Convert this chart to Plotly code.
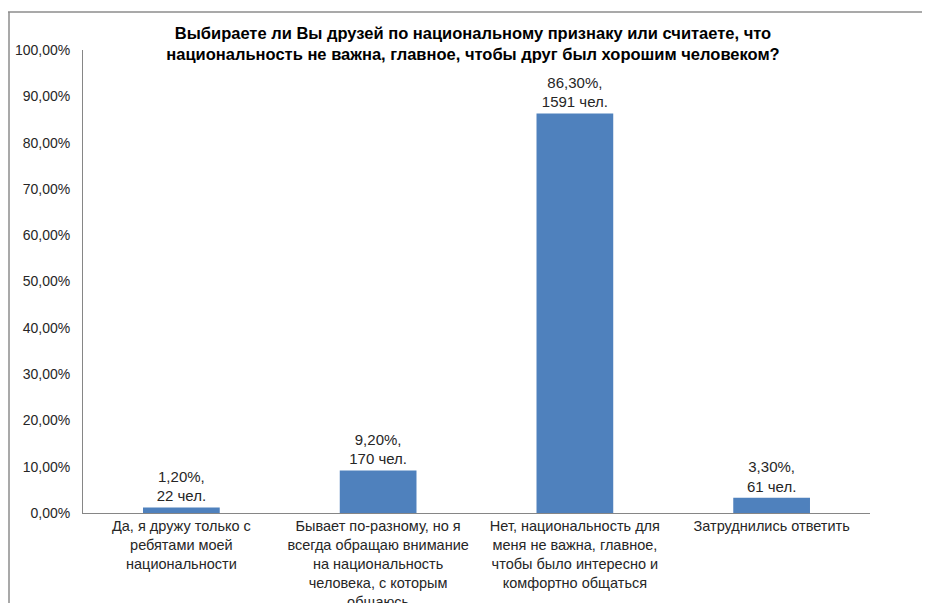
import plotly.graph_objects as go

categories = [
    "Да, я дружу только с<br>ребятами моей<br>национальности",
    "Бывает по-разному, но я<br>всегда обращаю внимание<br>на национальность<br>человека, с которым<br>общаюсь",
    "Нет, национальность для<br>меня не важна, главное,<br>чтобы было интересно и<br>комфортно общаться",
    "Затруднились ответить",
]
percent = [1.20, 9.20, 86.30, 3.30]
people = [22, 170, 1591, 61]
y_ticks = [0, 10, 20, 30, 40, 50, 60, 70, 80, 90, 100]

labels = [f"{p:.2f}".replace(".", ",") + f"%,<br>{n} чел." for p, n in zip(percent, people)]

fig = go.Figure(
    go.Bar(
        x=categories,
        y=[p / 100 for p in percent],
        text=labels,
        textposition="outside",
        cliponaxis=False,
        textfont=dict(family="Liberation Sans, Arial", size=15, color="#262626"),
        marker=dict(color="#4F81BD", line=dict(width=0)),
    )
)

# page body has an 8px margin, so figure coords = reference coords - 8
W, H = 930, 603
L, R, T, B = 75, 68, 42, 98
pw, ph = W - L - R, H - T - B

fig.update_layout(
    width=W,
    height=H,
    margin=dict(l=L, r=R, t=T, b=B, autoexpand=False),
    paper_bgcolor="white",
    plot_bgcolor="white",
    separators=", ",
    showlegend=False,
    font=dict(family="Liberation Sans, Arial", size=14, color="#262626"),
    title=dict(
        text="Выбираете ли Вы друзей по национальному признаку или считаете, что<br>"
        "национальность не важна, главное, чтобы друг был хорошим человеком?",
        x=0.5,
        xanchor="center",
        y=1 - 31 / H,
        yanchor="middle",
        font=dict(family="Liberation Sans, Arial", size=16.5, color="black", weight="bold"),
    ),
    bargap=0.61,
)
fig.update_yaxes(
    range=[0, 1],
    tickvals=[t / 100 for t in y_ticks],
    tickformat=".2%",
    showgrid=False,
    zeroline=False,
    showline=True,
    linecolor="#868686",
    linewidth=1,
    ticks="",
    ticklabelstandoff=9,
    tickfont=dict(size=14),
)
fig.update_xaxes(
    showline=True,
    linecolor="#868686",
    linewidth=1,
    showgrid=False,
    ticks="",
    tickangle=0,
    tickfont=dict(size=14.5),
)

# chart frame (top and left edges visible in the crop)
top = (H - B - 4) / ph
fig.add_shape(type="line", xref="paper", yref="paper",
              x0=(0 - L) / pw, x1=(W - L) / pw, y0=top, y1=top,
              line=dict(color="#8c8c8c", width=1.5))
fig.add_shape(type="line", xref="paper", yref="paper",
              x0=(1 - L) / pw, x1=(1 - L) / pw, y0=top, y1=(H - B - H) / ph,
              line=dict(color="#8c8c8c", width=1.5))

fig.write_html("out.html")
